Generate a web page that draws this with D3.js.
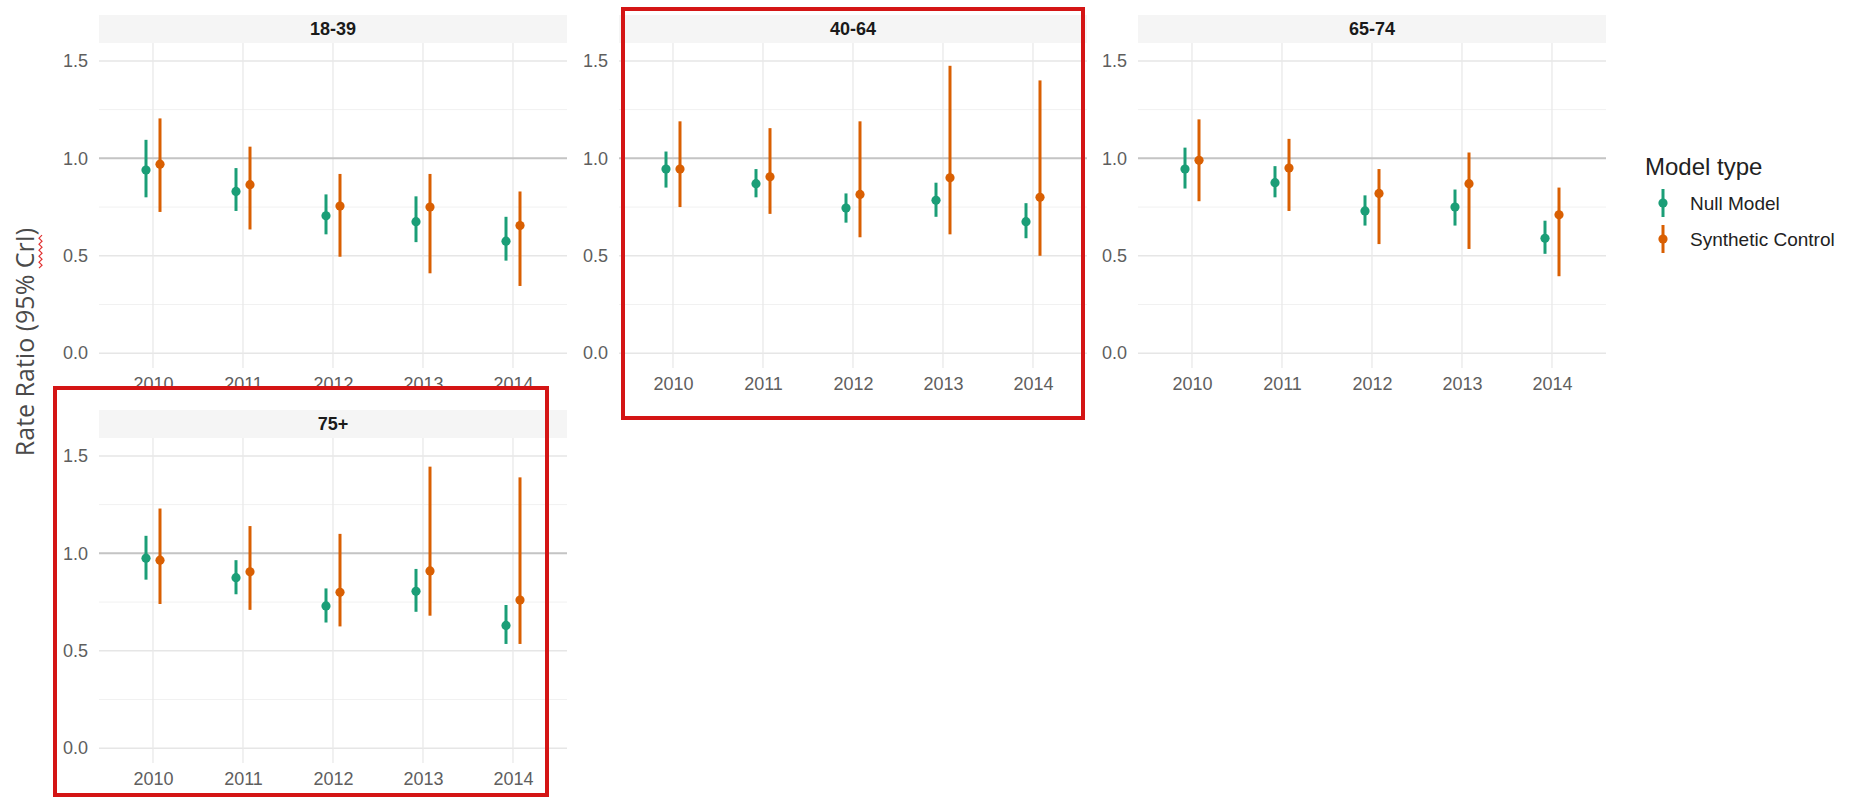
<!DOCTYPE html>
<html>
<head>
<meta charset="utf-8">
<script src="https://cdn.jsdelivr.net/npm/d3@7/dist/d3.min.js"></script>
<style>
  body { margin: 0; background: #fff; }
  svg { display: block; }
</style>
</head>
<body>
<div id="chart"></div>
<script>
const ageGroups = ['18-39', '40-64', '65-74', '75+'];
const years = ['2010', '2011', '2012', '2013', '2014'];
const modelTypes = ['Null Model', 'Synthetic Control'];
const yTicks = [0, 0.5, 1.0, 1.5];
const yMinorTicks = [0.25, 0.75, 1.25];

// one row per age group, one value per year
const nullEst  = [[0.94, 0.83, 0.705, 0.675, 0.575], [0.945, 0.87, 0.745, 0.785, 0.675], [0.945, 0.875, 0.73, 0.75, 0.59], [0.975, 0.875, 0.73, 0.805, 0.63]];
const nullLow  = [[0.80, 0.73, 0.61, 0.57, 0.475], [0.85, 0.80, 0.67, 0.70, 0.59], [0.845, 0.80, 0.655, 0.655, 0.51], [0.865, 0.79, 0.645, 0.70, 0.535]];
const nullHigh = [[1.095, 0.95, 0.815, 0.805, 0.70], [1.035, 0.945, 0.82, 0.875, 0.77], [1.055, 0.96, 0.81, 0.84, 0.68], [1.09, 0.965, 0.82, 0.92, 0.735]];
const synEst   = [[0.97, 0.865, 0.755, 0.75, 0.655], [0.945, 0.905, 0.815, 0.90, 0.80], [0.99, 0.95, 0.82, 0.87, 0.71], [0.965, 0.905, 0.80, 0.91, 0.76]];
const synLow   = [[0.725, 0.635, 0.495, 0.41, 0.345], [0.75, 0.715, 0.595, 0.61, 0.50], [0.78, 0.73, 0.56, 0.535, 0.395], [0.74, 0.71, 0.625, 0.68, 0.535]];
const synHigh  = [[1.205, 1.06, 0.92, 0.92, 0.83], [1.19, 1.155, 1.19, 1.475, 1.40], [1.20, 1.10, 0.945, 1.03, 0.85], [1.23, 1.14, 1.10, 1.445, 1.39]];

const colors = d3.scaleOrdinal().domain(modelTypes).range(['#1b9e77', '#d95f02']);

const width = 1849, height = 797;
const panelW = 468, panelH = 325, stripH = 28;
const colLeft = [99, 619, 1138];
const rowTop = [43, 438];
const font = '"Liberation Sans", Arial, sans-serif';

const svg = d3.select('#chart').append('svg')
  .attr('width', width)
  .attr('height', height);

// build rows for each panel
const rows = [];
ageGroups.forEach((g, gi) => {
  years.forEach((yr, yi) => {
    rows.push({group: g, year: yr, model: modelTypes[0], est: nullEst[gi][yi], low: nullLow[gi][yi], high: nullHigh[gi][yi]});
    rows.push({group: g, year: yr, model: modelTypes[1], est: synEst[gi][yi], low: synLow[gi][yi], high: synHigh[gi][yi]});
  });
});

ageGroups.forEach((g, gi) => {
  const px = colLeft[gi % 3];
  const py = rowTop[Math.floor(gi / 3)];

  const x = d3.scalePoint().domain(years).range([0, panelW]).padding(0.6);
  const dodge = d3.scalePoint().domain(modelTypes).range([-7, 7]);
  const y = d3.scaleLinear().domain([-0.076, 1.592]).range([panelH, 0]);

  const panel = svg.append('g').attr('transform', `translate(${px},${py})`);

  // strip
  panel.append('rect')
    .attr('x', 0).attr('y', -stripH)
    .attr('width', panelW).attr('height', stripH)
    .attr('fill', '#f5f5f5');
  panel.append('text')
    .attr('x', panelW / 2).attr('y', -stripH / 2)
    .attr('dy', '0.36em')
    .attr('text-anchor', 'middle')
    .attr('font-family', font)
    .attr('font-weight', 'bold')
    .attr('font-size', '18px')
    .attr('fill', '#1a1a1a')
    .text(g);

  // grid
  panel.selectAll('.minor').data(yMinorTicks).join('line')
    .attr('x1', 0).attr('x2', panelW)
    .attr('y1', d => y(d)).attr('y2', d => y(d))
    .attr('stroke', '#f1f1f1').attr('stroke-width', 1);
  panel.selectAll('.major').data(yTicks).join('line')
    .attr('x1', 0).attr('x2', panelW)
    .attr('y1', d => y(d)).attr('y2', d => y(d))
    .attr('stroke', '#e6e6e6').attr('stroke-width', 1.4);
  panel.selectAll('.vgrid').data(years).join('line')
    .attr('x1', d => x(d)).attr('x2', d => x(d))
    .attr('y1', 0).attr('y2', panelH)
    .attr('stroke', '#e9e9e9').attr('stroke-width', 1.3);

  // reference line at 1
  panel.append('line')
    .attr('x1', 0).attr('x2', panelW)
    .attr('y1', y(1)).attr('y2', y(1))
    .attr('stroke', '#c4c4c4').attr('stroke-width', 2);

  // axes
  const yAxis = panel.append('g')
    .call(d3.axisLeft(y).tickValues(yTicks).tickFormat(d3.format('.1f')).tickSize(0).tickPadding(11));
  const xAxis = panel.append('g')
    .attr('transform', `translate(0,${panelH})`)
    .call(d3.axisBottom(x).tickSize(0).tickPadding(9));
  [yAxis, xAxis].forEach(a => {
    a.select('.domain').remove();
    a.selectAll('text')
      .attr('font-family', font)
      .attr('font-size', '18px')
      .attr('fill', '#5e5e5e');
  });

  // point ranges
  const data = rows.filter(r => r.group === g);
  const marks = panel.selectAll('.pr').data(data).join('g')
    .attr('transform', d => `translate(${x(d.year) + dodge(d.model)},0)`);
  marks.append('line')
    .attr('y1', d => y(d.low)).attr('y2', d => y(d.high))
    .attr('stroke', d => colors(d.model))
    .attr('stroke-width', 3);
  marks.append('circle')
    .attr('cy', d => y(d.est))
    .attr('r', 4.6)
    .attr('fill', d => colors(d.model));
});

// y axis title
const title = svg.append('g').attr('transform', 'translate(34,342) rotate(-90)');
const titleText = title.append('text')
  .attr('text-anchor', 'middle')
  .attr('font-family', '"Open Sans", sans-serif')
  .attr('font-size', '25px')
  .attr('fill', '#4a4a4a')
  .text('Rate Ratio (95% CrI)');

// spell-check squiggle under "CrI"
const node = titleText.node();
const total = node.getComputedTextLength();
const start = node.getSubStringLength(0, 16);
const span = node.getSubStringLength(16, 3);
const x0 = -total / 2 + start;
let wave = `M${x0},5`;
for (let t = 0; t * 3 < span; t++) {
  wave += ` L${x0 + (t + 1) * 3},${t % 2 ? 5 : 8}`;
}
title.append('path')
  .attr('d', wave)
  .attr('fill', 'none')
  .attr('stroke', '#e03030')
  .attr('stroke-width', 1.2);

// legend
const legend = svg.append('g').attr('transform', 'translate(1645,0)');
legend.append('text')
  .attr('x', 0).attr('y', 175)
  .attr('font-family', font)
  .attr('font-size', '24px')
  .attr('fill', '#222')
  .text('Model type');
const keys = legend.selectAll('.key').data(modelTypes).join('g')
  .attr('transform', (d, i) => `translate(18,${203 + i * 36})`);
keys.append('line')
  .attr('y1', -14).attr('y2', 14)
  .attr('stroke', d => colors(d))
  .attr('stroke-width', 3);
keys.append('circle')
  .attr('r', 4.6)
  .attr('fill', d => colors(d));
keys.append('text')
  .attr('x', 27)
  .attr('dy', '0.35em')
  .attr('font-family', font)
  .attr('font-size', '19px')
  .attr('fill', '#222')
  .text(d => d);

// highlight boxes
const boxes = [
  {x: 623, y: 9, w: 460, h: 409},
  {x: 55, y: 388, w: 492, h: 407}
];
svg.selectAll('.box').data(boxes).join('rect')
  .attr('x', d => d.x).attr('y', d => d.y)
  .attr('width', d => d.w).attr('height', d => d.h)
  .attr('fill', 'none')
  .attr('stroke', '#d41515')
  .attr('stroke-width', 4);
</script>
</body>
</html>
